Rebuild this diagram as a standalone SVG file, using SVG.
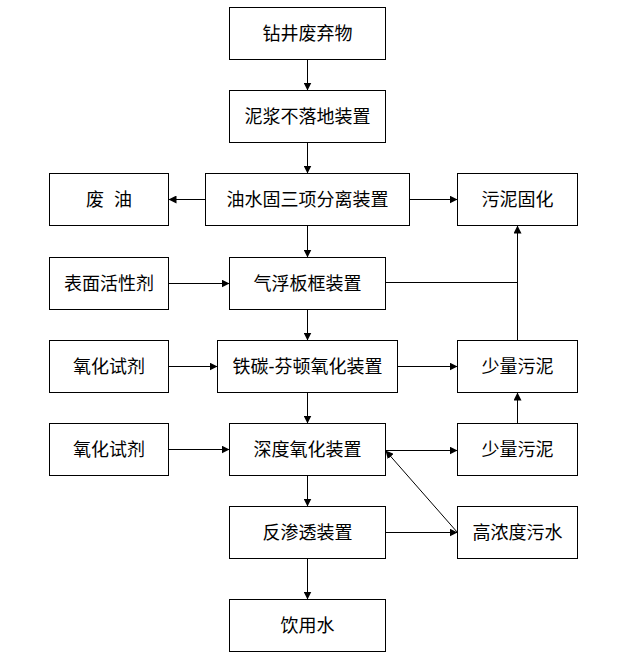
<svg xmlns="http://www.w3.org/2000/svg" width="627" height="661" viewBox="0 0 627 661">
<defs>
<marker id="arr" markerUnits="userSpaceOnUse" markerWidth="9" markerHeight="8" refX="8" refY="4" orient="auto">
<path d="M0,0 L8,4 L0,8 z" fill="#000"/>
</marker>
<style>
.box{fill:#fff;stroke:#000;stroke-width:1}
.lbl{font-family:"Liberation Sans","Noto Sans CJK SC",sans-serif;font-size:18px;fill:#000;text-anchor:middle;dominant-baseline:central}
.ln{fill:none;stroke:#000;stroke-width:1}
.ar{fill:none;stroke:#000;stroke-width:1;marker-end:url(#arr)}
</style>
</defs>
<rect width="627" height="661" fill="#fff"/>
<g id="connectors">
<path class="ar" d="M307.5 59.5V90.5"/>
<path class="ar" d="M307.5 142.5V173.5"/>
<path class="ar" d="M307.5 225.5V257.5"/>
<path class="ar" d="M307.5 309.5V340.5"/>
<path class="ar" d="M307.5 392.5V423.5"/>
<path class="ar" d="M307.5 475.5V506.5"/>
<path class="ar" d="M307.5 558.5V599.5"/>
<path class="ar" d="M205.5 199.5H168.5"/>
<path class="ar" d="M409.5 199.5H457.5"/>
<path class="ar" d="M168.5 283.5H229.5"/>
<path class="ln" d="M385.5 282.5H517.5"/>
<path class="ar" d="M517.5 340.5V225.5"/>
<path class="ar" d="M168.5 366.5H217.5"/>
<path class="ar" d="M397.5 366.5H457.5"/>
<path class="ar" d="M517.5 423.5V392.5"/>
<path class="ar" d="M168.5 449.5H229.5"/>
<path class="ar" d="M385.5 450.5H457.5"/>
<path class="ar" d="M385.5 532.5H457.5"/>
<path class="ar" d="M457.5 532.5L385.5 450.5"/>
</g>
<g id="n1"><rect class="box" x="229.5" y="7.5" width="156" height="52"/><text class="lbl" x="307.5" y="33.5">钻井废弃物</text></g>
<g id="n2"><rect class="box" x="229.5" y="90.5" width="156" height="52"/><text class="lbl" x="307.5" y="116.5">泥浆不落地装置</text></g>
<g id="n3"><rect class="box" x="49.5" y="173.5" width="119" height="52"/><text class="lbl" x="109" y="199.5" word-spacing="5">废 油</text></g>
<g id="n4"><rect class="box" x="205.5" y="173.5" width="204" height="52"/><text class="lbl" x="307.5" y="199.5">油水固三项分离装置</text></g>
<g id="n5"><rect class="box" x="457.5" y="173.5" width="120" height="52"/><text class="lbl" x="517.5" y="199.5">污泥固化</text></g>
<g id="n6"><rect class="box" x="49.5" y="257.5" width="119" height="52"/><text class="lbl" x="109" y="283.5">表面活性剂</text></g>
<g id="n7"><rect class="box" x="229.5" y="257.5" width="156" height="52"/><text class="lbl" x="307.5" y="283.5">气浮板框装置</text></g>
<g id="n8"><rect class="box" x="49.5" y="340.5" width="119" height="52"/><text class="lbl" x="109" y="366.5">氧化试剂</text></g>
<g id="n9"><rect class="box" x="217.5" y="340.5" width="180" height="52"/><text class="lbl" x="307.5" y="366.5">铁碳-芬顿氧化装置</text></g>
<g id="n10"><rect class="box" x="457.5" y="340.5" width="120" height="52"/><text class="lbl" x="517.5" y="366.5">少量污泥</text></g>
<g id="n11"><rect class="box" x="49.5" y="423.5" width="119" height="52"/><text class="lbl" x="109" y="449.5">氧化试剂</text></g>
<g id="n12"><rect class="box" x="229.5" y="423.5" width="156" height="52"/><text class="lbl" x="307.5" y="449.5">深度氧化装置</text></g>
<g id="n13"><rect class="box" x="457.5" y="423.5" width="120" height="52"/><text class="lbl" x="517.5" y="449.5">少量污泥</text></g>
<g id="n14"><rect class="box" x="229.5" y="506.5" width="156" height="52"/><text class="lbl" x="307.5" y="532.5">反渗透装置</text></g>
<g id="n15"><rect class="box" x="457.5" y="506.5" width="120" height="52"/><text class="lbl" x="517.5" y="532.5">高浓度污水</text></g>
<g id="n16"><rect class="box" x="229.5" y="599.5" width="156" height="52"/><text class="lbl" x="307.5" y="625.5">饮用水</text></g>
</svg>
